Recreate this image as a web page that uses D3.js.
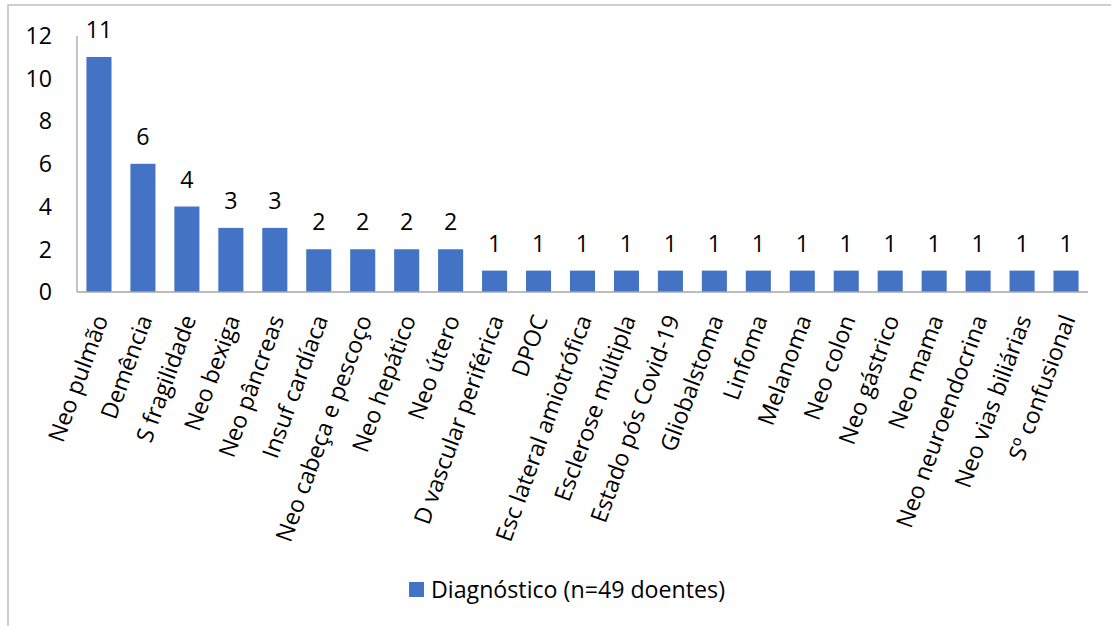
<!DOCTYPE html>
<html>
<head>
<meta charset="utf-8">
<script src="https://cdn.jsdelivr.net/npm/d3@7"></script>
<style>
  body { margin: 0; background: #fff; }
  svg text { font-family: "Open Sans", "DejaVu Sans", sans-serif; fill: #000; }
</style>
</head>
<body>
<div id="canvas"></div>
<script>
"use strict"

/* Data */
let categories = [
    "Neo pulmão", "Demência", "S fragilidade", "Neo bexiga", "Neo pâncreas",
    "Insuf cardíaca", "Neo cabeça e pescoço", "Neo hepático", "Neo útero",
    "D vascular periférica", "DPOC", "Esc lateral amiotrófica", "Esclerose múltipla",
    "Estado pós Covid-19", "Gliobalstoma", "Linfoma", "Melanoma", "Neo colon",
    "Neo gástrico", "Neo mama", "Neo neuroendocrina", "Neo vias biliárias", "Sº confusional"
];
let counts = [11, 6, 4, 3, 3, 2, 2, 2, 2, 1, 1, 1, 1, 1, 1, 1, 1, 1, 1, 1, 1, 1, 1];
let yTicks = [0, 2, 4, 6, 8, 10, 12];
let seriesName = "Diagnóstico (n=49 doentes)";

/* Drawing configuration */
let svgWidth = 1111;
let svgHeight = 626;
let fontSize = 23.2;
let barColor = "#4472C4";
let axisColor = "#a6a6a6";

let svg = d3.select("#canvas")
    .append("svg")
    .attr("width", svgWidth)
    .attr("height", svgHeight);

/* chart border (cropped at right and bottom) */
svg.append("rect")
    .attr("x", 8)
    .attr("y", 5)
    .attr("width", svgWidth + 20)
    .attr("height", svgHeight + 20)
    .attr("fill", "#fff")
    .attr("stroke", "#bfbfbf")
    .attr("stroke-width", 1.5);

let x = d3.scaleBand()
    .domain(categories)
    .range([77, 1088])
    .paddingInner(0.43)
    .paddingOuter(0.215);

let y = d3.scaleLinear()
    .domain([0, 12])
    .range([292, 35.6]);

/* y axis labels */
svg.selectAll(".ytick")
    .data(yTicks)
    .join("text")
    .attr("class", "ytick")
    .attr("x", 52)
    .attr("y", d => y(d))
    .attr("dy", "0.36em")
    .attr("text-anchor", "end")
    .attr("font-size", fontSize)
    .text(d => d);

/* bars */
svg.selectAll(".bar")
    .data(counts)
    .join("rect")
    .attr("class", "bar")
    .attr("x", (d, i) => x(categories[i]))
    .attr("y", d => y(d))
    .attr("width", x.bandwidth())
    .attr("height", d => y(0) - y(d))
    .attr("fill", barColor);

/* axis lines */
svg.append("line")
    .attr("x1", 77).attr("x2", 77)
    .attr("y1", 36).attr("y2", 292)
    .attr("stroke", axisColor)
    .attr("stroke-width", 1.3);
svg.append("line")
    .attr("x1", 77).attr("x2", 1088)
    .attr("y1", 292).attr("y2", 292)
    .attr("stroke", axisColor)
    .attr("stroke-width", 1.3);

/* value labels */
svg.selectAll(".value")
    .data(counts)
    .join("text")
    .attr("class", "value")
    .attr("x", (d, i) => x(categories[i]) + x.bandwidth() / 2)
    .attr("y", d => y(d) - 19)
    .attr("text-anchor", "middle")
    .attr("font-size", fontSize)
    .text(d => d);

/* category labels */
svg.selectAll(".cat")
    .data(categories)
    .join("text")
    .attr("class", "cat")
    .attr("text-anchor", "end")
    .attr("dy", "0.35em")
    .attr("font-size", fontSize)
    .attr("transform", d => "translate(" + (x(d) + x.bandwidth() / 2 + 2) + ",316) rotate(-70)")
    .text(d => d);

/* legend */
svg.append("rect")
    .attr("x", 409)
    .attr("y", 582)
    .attr("width", 15)
    .attr("height", 15)
    .attr("fill", barColor);
svg.append("text")
    .attr("x", 431)
    .attr("y", 598)
    .attr("font-size", fontSize)
    .text(seriesName);
</script>
</body>
</html>
